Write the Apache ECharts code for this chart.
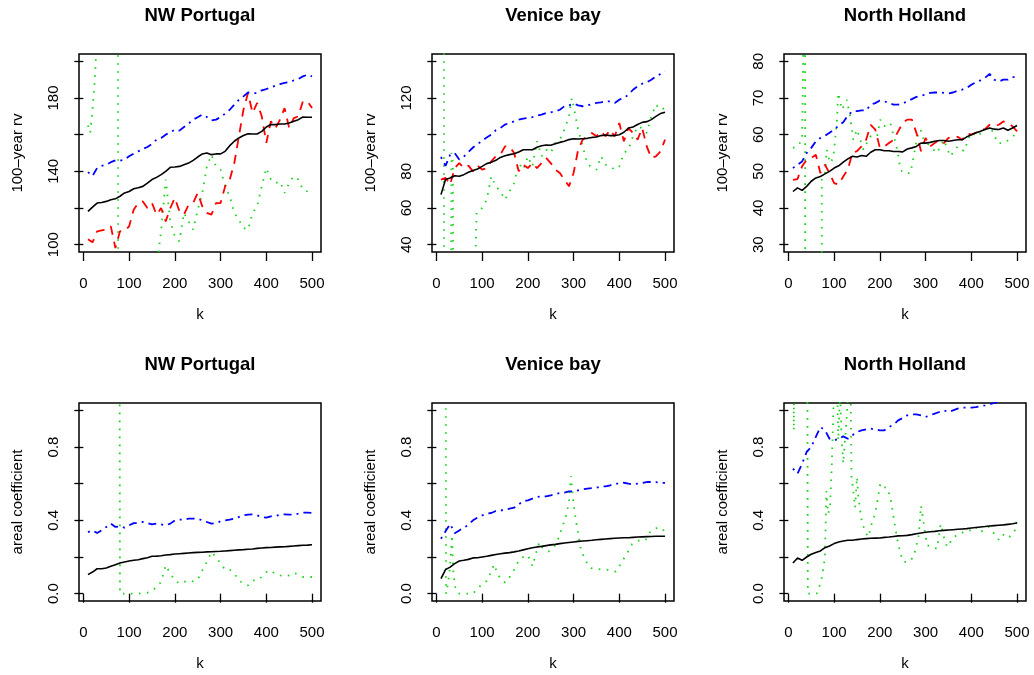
<!DOCTYPE html>
<html>
<head>
<meta charset="utf-8">
<script src="https://cdn.jsdelivr.net/npm/echarts@6/dist/echarts.min.js"></script>
<style>
  html, body { margin: 0; padding: 0; background: #fff; }
  #chart { width: 1034px; height: 675px; }
</style>
</head>
<body>
<div id="chart"></div>
<script>
// k values shared by the smooth estimators
const kGrid = [10,20,30,40,50,60,70,80,90,100,110,120,130,140,150,160,170,180,190,200,
  210,220,230,240,250,260,270,280,290,300,310,320,330,340,350,360,370,380,390,400,
  410,420,430,440,450,460,470,480,490,500];
const kTicks = [0, 100, 200, 300, 400, 500];

const siteNames = ['NW Portugal', 'Venice bay', 'North Holland'];

// ---- top row: 100-year return value ----
const portugalRvBlack = [118.2,120.5,122.7,123,123.6,124.5,125,126.4,128.2,129,
  130.5,131,131.8,133.6,135.5,136.7,138.2,140,142.2,142.4,142.7,143.6,144.5,146,147.8,
  149.5,150,149.1,149.5,149.5,150.9,154,156.4,158.2,159.5,160.5,160.4,160.4,161.8,164.2,
  165.5,165.5,165.8,165.8,166.4,167.3,168.2,169.6,169.5,169.5];
const portugalRvBlue = [139.6,137.5,141.8,143,143.6,145,146,145.8,146.4,148.2,
  149.6,150.9,152.2,153.3,155,157.3,158.2,160,161.3,162.7,162.2,164.2,166,168.2,169.5,
  171,169.6,167.8,168.2,169.6,171.5,173.6,176.4,179,180.9,183,182.7,182.7,184.2,184.9,
  185.8,186.7,187.6,188.2,188.7,189.6,190.4,191.8,192.7,191.8];
const portugalRvRed = [103,101.3,107.3,107.8,108.2,110,98.2,107.3,107.6,110,
  119,122.7,123.6,120,122.7,116.4,120,112.7,120,125.5,118.2,116.4,121.8,122.7,128.2,
  120.9,117.3,116.4,122.7,122.7,131.8,135.5,144.5,159,173.6,182.7,171.8,177.3,170,155.5,
  167.3,163.6,168.2,174.5,163.6,169,170,178.2,178.2,174.5];
const portugalRvGreen = [[10,165],[15,161],[20,174],[25,190],[30,215],[40,260],[60,280],
  [75,400],[77,-200],[160,-200],[165,98],[170,107.3],[180,135.5],[190,112.7],[200,104.5],
  [210,101.8],[220,117.3],[230,112.7],[240,108.2],[250,119],[260,128.2],[270,142.7],[280,149],
  [290,142.7],[300,140.9],[310,131.8],[320,126.4],[330,117.3],[340,113.6],[350,109.1],[360,108.2],
  [370,117.3],[380,120.9],[390,131.8],[400,141.8],[410,135.5],[420,133.6],[430,134.5],[440,128.2],
  [450,133.6],[460,137.3],[470,135.5],[480,130],[490,129],[500,126.4]];

const veniceRvBlack = [67.3,75.5,76.4,77.6,77.3,78.2,79.5,80.4,81.3,82.7,
  84.2,84.9,86,87.6,88.5,89.1,89.6,90.5,91.8,91.8,91.8,93.1,94,94.4,94.2,
  95.1,95.8,96.4,97.3,97.8,97.6,97.8,98,98.5,98.7,99.5,99.8,99.5,99.5,100,
  101.3,103.6,104.2,105.5,106.7,107.1,108.2,110,111.5,112.2];
const veniceRvBlue = [87.8,83,89,90,86.5,88,90.5,93,95,96.5,
  98.5,100,102.4,103.6,105.5,106.4,107.3,108.2,108.7,109.1,109.6,110.4,110.9,111.8,112.2,
  112.7,113.6,115.5,116,116.9,116,115.5,116,116.7,117.3,117.6,118.2,118.2,117.3,119.1,
  120,121.8,124.5,126.4,127.8,128.5,130,131.8,133.1,134.5];
const veniceRvRed = [75.5,76.4,72.7,81.8,84.5,81.8,83.1,80,83.1,80.9,
  81.8,85.5,88.2,89.1,93.6,93.6,90,80,83.6,81.8,84.5,81.8,84.5,87.3,84.5,
  80.9,79.1,75.5,71.8,79.1,91.8,97.3,99.1,100.9,99.1,101.8,99.1,102.7,99.1,106.4,
  96.4,103.6,100.9,97.3,103.6,93.6,87.3,88.2,90.9,97.3];
const veniceRvGreen = [[10,300],[16,300],[17,-200],[30,-200],[33,90],[36,85],[38,-200],
  [84,-200],[86,40],[88,58],[100,60],[110,64.5],[120,77.3],[130,71.8],[140,69.1],[150,64.5],
  [160,69],[170,73.6],[180,84.5],[190,80.9],[200,88.2],[210,82.7],[220,96.4],[230,88.2],
  [240,91.8],[250,90],[260,95.5],[270,97.3],[280,102.7],[290,110],[296,120],[300,115.5],
  [310,102.7],[320,93.6],[330,84.5],[340,81.8],[350,80.9],[360,88.2],[370,83.6],[380,82.7],
  [390,80.9],[400,82.7],[410,90],[420,91.8],[430,99.1],[440,104.5],[450,103.6],[460,100.9],
  [470,110],[480,116.4],[490,113.6],[500,114.5]];

const hollandRvBlack = [44.5,45.5,44.8,45.9,47.3,48.2,48.6,49.3,50,50.9,
  51.5,52.5,53.4,54.1,53.9,54.3,54.1,55.2,55.9,55.9,55.6,55.6,55.4,55.4,55.3,
  56.1,56.4,56.8,57.7,57.7,57.9,58.2,58.4,58.4,58.2,58.4,58.6,58.6,59.4,60,
  60.5,60.9,61.4,61.8,61.5,61.4,61.8,61.2,61.8,62.5];
const hollandRvBlue = [50.9,51.8,52.7,55,56.4,58.2,59.1,59.7,60.5,61.4,
  62.5,63.4,65.2,66.4,66.4,66.6,66.6,68.2,68.6,69.3,69.1,68.6,68.2,68.2,68.5,
  69.1,69.7,70.3,70.6,70.9,71.4,71.5,71.5,71.4,71.2,71.5,72,72.3,72.7,73.6,
  74.3,74.8,75.5,76.6,75,74.5,75,75,75.7,75.7];
const hollandRvRed = [47.7,47.9,51.4,53.2,53.6,54.5,49.5,51.8,49.5,46.8,
  46.4,48.6,50.5,55,55.5,56.8,58.6,62.7,61.4,56.4,56.8,57.7,58.6,60.9,63.2,
  64.1,64.1,60.5,55.5,59.1,56.8,57.7,58.6,57.7,59.1,59.1,59.4,58.6,60.3,60,
  60.5,61.4,61.5,62.7,62.3,62.7,63.6,63.2,62.3,60.9];
const hollandRvGreen = [[10,56.4],[20,56.8],[30,58.6],[34,95],[36,400],[38,-600],[70,-600],
  [73,48],[80,49.5],[84,55.9],[91,52.3],[98,53.6],[106,63.2],[109,71.4],[117,66.8],[128,69.5],
  [135,65],[142,58.6],[150,61.4],[164,55.9],[179,59.5],[194,59.5],[201,64.1],[209,62.3],
  [223,63.2],[238,55.9],[245,50.5],[252,49.5],[267,49.5],[282,59.5],[289,61.4],[296,58.6],
  [310,56.8],[325,55],[340,58.6],[354,54.1],[370,56.8],[384,55.5],[399,60.5],[414,59.5],
  [428,61.4],[443,61.8],[458,57.7],[472,57.7],[487,59.1],[500,60.5]];

// ---- bottom row: areal coefficient ----
const portugalAcBlack = [0.104,0.118,0.136,0.136,0.14,0.149,0.158,0.167,0.173,0.178,
  0.182,0.185,0.191,0.196,0.204,0.205,0.207,0.211,0.213,0.216,0.218,0.22,0.222,0.224,0.225,
  0.226,0.228,0.229,0.23,0.231,0.233,0.235,0.237,0.239,0.24,0.242,0.244,0.247,0.249,0.251,
  0.252,0.254,0.255,0.256,0.258,0.26,0.262,0.264,0.265,0.267];
const portugalAcBlue = [0.336,0.345,0.331,0.345,0.364,0.382,0.364,0.367,0.36,0.373,
  0.385,0.385,0.391,0.385,0.378,0.382,0.378,0.373,0.382,0.4,0.404,0.404,0.409,0.409,0.409,
  0.4,0.391,0.382,0.385,0.395,0.4,0.404,0.409,0.418,0.427,0.431,0.433,0.427,0.418,0.415,
  0.422,0.424,0.431,0.433,0.431,0.431,0.436,0.442,0.442,0.44];
const portugalAcGreen = [[10,3],[78,3],[80,0],[100,0],[120,0],[140,0.005],[150,0.015],
  [160,0.036],[170,0.064],[175,0.11],[180,0.155],[190,0.11],[200,0.073],[210,0.055],[220,0.064],
  [230,0.073],[240,0.067],[250,0.076],[260,0.127],[270,0.173],[280,0.227],[290,0.2],[300,0.164],
  [310,0.131],[320,0.131],[330,0.109],[340,0.073],[350,0.055],[360,0.045],[370,0.073],[380,0.073],
  [390,0.091],[400,0.118],[410,0.127],[420,0.105],[430,0.1],[440,0.096],[450,0.1],[460,0.113],
  [470,0.104],[480,0.091],[490,0.091],[500,0.091]];

const veniceAcBlack = [0.082,0.131,0.145,0.164,0.178,0.182,0.187,0.195,0.196,0.2,
  0.204,0.209,0.214,0.218,0.221,0.224,0.228,0.233,0.239,0.245,0.25,0.255,0.258,0.262,0.266,
  0.269,0.273,0.276,0.279,0.282,0.285,0.287,0.289,0.291,0.294,0.296,0.298,0.3,0.302,0.304,
  0.305,0.305,0.307,0.309,0.31,0.311,0.312,0.313,0.313,0.313];
const veniceAcBlue = [0.30,0.34,0.38,0.33,0.345,0.36,0.375,0.40,0.415,0.427,
  0.436,0.44,0.451,0.455,0.455,0.464,0.469,0.487,0.505,0.509,0.518,0.527,0.531,0.531,0.536,
  0.542,0.549,0.551,0.558,0.558,0.564,0.569,0.573,0.576,0.578,0.585,0.585,0.591,0.6,0.6,
  0.605,0.6,0.596,0.6,0.604,0.609,0.609,0.609,0.605,0.604];
const veniceAcGreen = [[10,4],[19,4],[21,0],[25,0.05],[30,0.15],[34,0.32],[37,0.12],[42,0.02],
  [50,0],[80,0],[90,0.03],[110,0.07],[120,0.12],[126,0.16],[135,0.1],[150,0.06],[160,0.09],
  [170,0.13],[180,0.18],[190,0.2],[200,0.21],[210,0.15],[220,0.24],[225,0.28],[232,0.25],
  [245,0.23],[256,0.25],[265,0.29],[275,0.36],[283,0.42],[290,0.5],[294,0.64],[300,0.49],
  [305,0.4],[310,0.33],[316,0.24],[326,0.18],[337,0.14],[351,0.135],[366,0.13],[381,0.13],
  [392,0.12],[400,0.15],[407,0.18],[417,0.22],[428,0.27],[443,0.29],[457,0.29],[468,0.34],
  [483,0.36],[494,0.355],[500,0.335]];

const hollandAcBlack = [0.167,0.195,0.182,0.2,0.215,0.224,0.233,0.251,0.26,0.273,
  0.282,0.287,0.291,0.291,0.295,0.298,0.3,0.302,0.303,0.304,0.307,0.309,0.312,0.315,0.316,
  0.318,0.322,0.327,0.331,0.335,0.338,0.34,0.343,0.345,0.347,0.349,0.351,0.353,0.355,0.358,
  0.361,0.364,0.366,0.369,0.371,0.373,0.375,0.378,0.381,0.385];
const hollandAcBlue = [0.682,0.655,0.709,0.773,0.8,0.855,0.909,0.891,0.845,0.836,
  0.845,0.858,0.845,0.864,0.882,0.891,0.896,0.9,0.896,0.891,0.891,0.909,0.922,0.945,0.958,
  0.973,0.978,0.978,0.973,0.964,0.973,0.982,0.991,1.0,0.991,1.0,1.009,1.015,1.015,1.015,
  1.018,1.022,1.027,1.033,1.04,1.05,1.06,1.07,1.08,1.09];
const hollandAcGreen = [[10,3],[12,0.89],[14,3],[40,3],[42.5,0],[62,0],[72,0.07],[76,0.073],
  [80,0.2],[83,0.56],[87,0.436],[91,0.47],[95,0.71],[98,0.98],[102,1.3],[106,1.2],[109,0.836],
  [113,1.1],[116,0.87],[120,0.71],[128,0.98],[133,1.3],[136,1.1],[138,0.64],[142,0.56],
  [146,0.47],[150,0.636],[153,0.527],[160,0.4],[168,0.336],[175,0.31],[182,0.38],[190,0.436],
  [201,0.6],[208,0.58],[215,0.58],[223,0.527],[230,0.418],[237,0.31],[245,0.218],[252,0.173],
  [263,0.173],[274,0.2],[285,0.318],[290,0.48],[296,0.38],[303,0.264],[314,0.255],[325,0.245],
  [333,0.38],[340,0.31],[347,0.255],[362,0.31],[377,0.327],[388,0.345],[399,0.345],[410,0.364],
  [417,0.336],[428,0.345],[439,0.364],[450,0.327],[461,0.291],[472,0.327],[483,0.31],
  [494,0.336],[500,0.4]];

// y ticks per panel (labels that R kept)
const rvTicks = [[100,120,140,160,180,200], [40,60,80,100,120,140], [30,40,50,60,70,80]];
const rvLabels = [[100,140,180], [40,60,80,120], [30,40,50,60,70,80]];
const rvLimits = [[100,200], [40,140], [30,80]];
const acTicks = [0, 0.2, 0.4, 0.6, 0.8, 1.0];
const acLabels = [0, 0.4, 0.8];

const FONT = '"Liberation Sans", Arial, Helvetica, sans-serif';
const colLeft = [79, 432, 784];
const rowTop = [54, 403];
const boxW = 242, boxH = 198;

// R pads the axis range by 4% each side
const pad = (lo, hi) => [lo - (hi - lo) * 0.04, hi + (hi - lo) * 0.04];
const kRange = pad(10, 500);

const panels = [];
for (let c = 0; c < 3; c++) {
  panels.push({
    col: c, row: 0, ylab: '100\u2013year rv', ylim: pad(rvLimits[c][0], rvLimits[c][1]),
    ticks: rvTicks[c], labels: rvLabels[c], fmt: v => String(v),
    black: [portugalRvBlack, veniceRvBlack, hollandRvBlack][c],
    blue: [portugalRvBlue, veniceRvBlue, hollandRvBlue][c],
    red: [portugalRvRed, veniceRvRed, hollandRvRed][c],
    green: [portugalRvGreen, veniceRvGreen, hollandRvGreen][c]
  });
}
for (let c = 0; c < 3; c++) {
  panels.push({
    col: c, row: 1, ylab: 'areal coefficient', ylim: pad(0, 1),
    ticks: acTicks, labels: acLabels, fmt: v => v.toFixed(1),
    black: [portugalAcBlack, veniceAcBlack, hollandAcBlack][c],
    blue: [portugalAcBlue, veniceAcBlue, hollandAcBlue][c],
    red: null,
    green: [portugalAcGreen, veniceAcGreen, hollandAcGreen][c]
  });
}

const onGrid = vals => kGrid.map((k, i) => [k, vals[i]]);

const lineSeries = (i, data, color, type, width, z) => ({
  type: 'line', xAxisIndex: i, yAxisIndex: i, data: data,
  showSymbol: false, symbol: 'none', silent: true, animation: false, z: z,
  lineStyle: { color: color, width: width, type: type, cap: 'butt' }
});

const option = {
  backgroundColor: '#fff',
  animation: false,
  textStyle: { fontFamily: FONT },
  title: panels.map(p => ({
    text: siteNames[p.col],
    left: colLeft[p.col] + boxW / 2,
    top: p.row === 0 ? 6 : 355,
    textAlign: 'center',
    padding: 0,
    textStyle: { fontFamily: FONT, fontSize: 18.5, fontWeight: 'bold', color: '#000' }
  })),
  grid: panels.map(p => ({
    left: colLeft[p.col], top: rowTop[p.row], width: boxW, height: boxH,
    show: true, borderColor: '#000', borderWidth: 1.5, backgroundColor: 'transparent'
  })),
  xAxis: panels.map((p, i) => ({
    gridIndex: i, type: 'value', min: kRange[0], max: kRange[1],
    axisLine: { show: false }, splitLine: { show: false },
    axisTick: { show: true, customValues: kTicks, length: 9, lineStyle: { color: '#000', width: 1.3 } },
    axisLabel: { customValues: kTicks, margin: 24, color: '#000', fontSize: 15, fontFamily: FONT },
    name: 'k', nameLocation: 'middle', nameGap: 55,
    nameTextStyle: { color: '#000', fontSize: 15, fontFamily: FONT }
  })),
  yAxis: panels.map((p, i) => ({
    gridIndex: i, type: 'value', min: p.ylim[0], max: p.ylim[1],
    axisLine: { show: false }, splitLine: { show: false },
    axisTick: { show: true, customValues: p.ticks, length: 9, lineStyle: { color: '#000', width: 1.3 } },
    axisLabel: { customValues: p.labels, formatter: p.fmt, rotate: 90, margin: 18,
      color: '#000', fontSize: 15, fontFamily: FONT },
    name: p.ylab, nameLocation: 'middle', nameGap: 54, nameRotate: 90,
    nameTextStyle: { color: '#000', fontSize: 15, fontFamily: FONT }
  })),
  series: []
};

panels.forEach((p, i) => {
  option.series.push(lineSeries(i, p.green, '#19d419', [1.6, 6.4], 1.8, 2));
  if (p.red) option.series.push(lineSeries(i, onGrid(p.red), '#ff0000', [9, 7], 1.8, 3));
  option.series.push(lineSeries(i, onGrid(p.blue), '#0000ff', [2, 5, 8, 5], 1.8, 4));
  option.series.push(lineSeries(i, onGrid(p.black), '#000000', 'solid', 1.6, 5));
});

const chart = echarts.init(document.getElementById('chart'), null, { renderer: 'canvas' });
chart.setOption(option);
</script>
</body>
</html>
